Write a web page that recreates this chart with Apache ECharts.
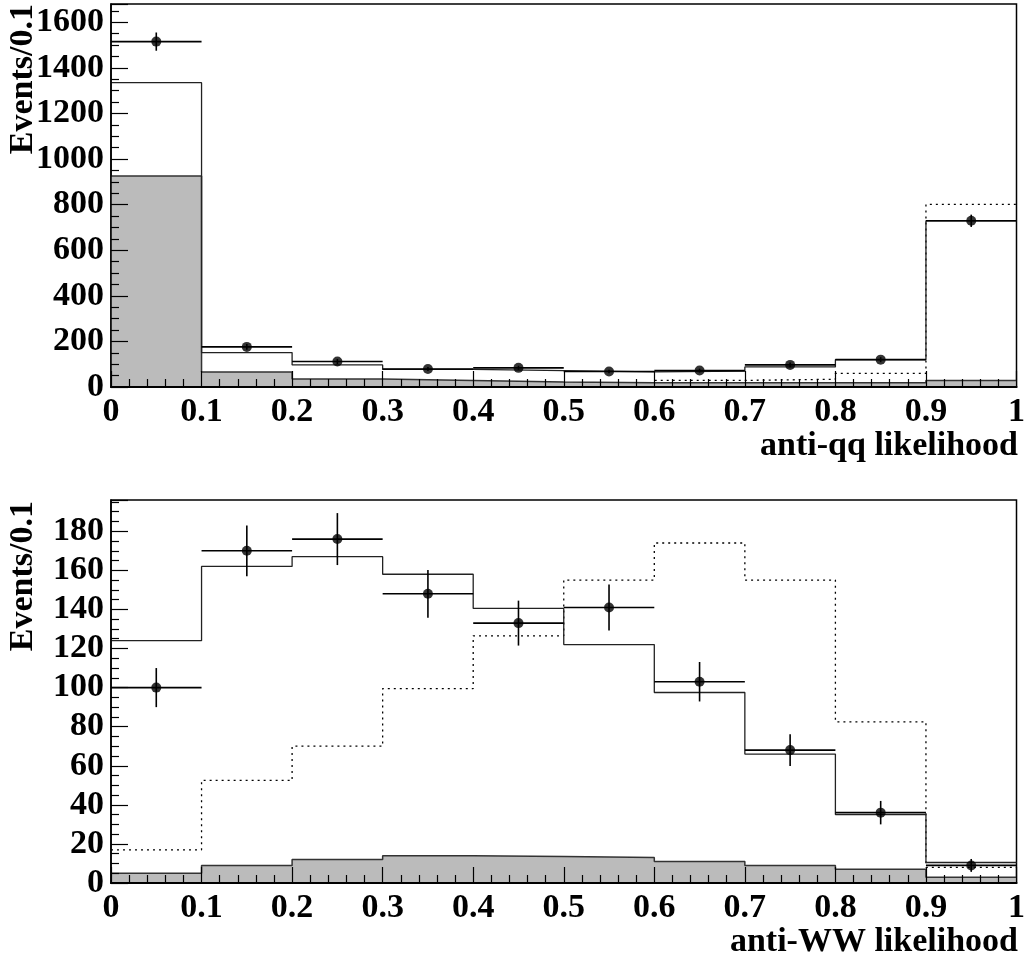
<!DOCTYPE html>
<html>
<head>
<meta charset="utf-8">
<title>likelihood</title>
<script src="https://cdn.jsdelivr.net/npm/echarts@6/dist/echarts.min.js"></script>
<style>
    html, body { margin: 0; padding: 0; background: #fff; }
    #chart { width: 1028px; height: 958px; }
</style>
</head>
<body>
<div id="chart"></div>
<script>

// bin edges, shared by both panels
const binEdges = [0, 0.1, 0.2, 0.3, 0.4, 0.5, 0.6, 0.7, 0.8, 0.9, 1];
const xTickLabels = ['0', '0.1', '0.2', '0.3', '0.4', '0.5', '0.6', '0.7', '0.8', '0.9', '1'];

// [ top panel: anti-qq likelihood ]
const qqData       = [1515, 176, 112, 79, 84, 68, 72, 97, 120, 729];
const qqDataErr    = [40, 13, 11, 9, 9, 8, 8.5, 10, 11, 27];
const qqTotalMC    = [1335, 151, 97, 77, 72, 66, 70, 88, 120, 729];
const qqBackground = [925, 66, 35, 28, 22, 19, 19, 19, 19, 29];
const qqSignal     = [8, 12, 14, 16, 18, 19, 29, 34, 60, 801];

// [ bottom panel: anti-WW likelihood ]
const wwData       = [100, 170, 176, 148, 133, 141, 103, 68, 36, 9];
const wwDataErr    = [10, 13, 13.3, 12.2, 11.5, 11.8, 10.1, 8.1, 6, 3.3];
const wwTotalMC    = [124, 162, 167, 158, 140.5, 122, 97.5, 66, 35, 10.5];
const wwBackground = [5, 9, 12, 14, 13.6, 13.1, 11, 9, 7, 3];
const wwSignal     = [17, 52.5, 70, 99.5, 126.5, 155, 174, 155, 82.5, 8];

const FONT = '"Liberation Serif", "Times New Roman", serif';

// step points: one per edge, last bin value repeated at the right edge
function stepPoints(vals) {
    return binEdges.map((e, i) => [e, vals[Math.min(i, vals.length - 1)]]);
}

function errPoints(vals, errs) {
    return vals.map((v, i) => [(binEdges[i] + binEdges[i + 1]) / 2, v, errs[i], binEdges[i], binEdges[i + 1]]);
}

function renderErr(params, api) {
    const x = api.value(0), y = api.value(1), err = api.value(2);
    const pl = api.coord([api.value(3), y]);
    const pr = api.coord([api.value(4), y]);
    const pt = api.coord([x, y + err]);
    const pb = api.coord([x, y - err]);
    const style = { stroke: '#000', lineWidth: 1.6 };
    return {
        type: 'group',
        children: [
            { type: 'line', shape: { x1: pl[0], y1: pl[1], x2: pr[0], y2: pr[1] }, style: style },
            { type: 'line', shape: { x1: pt[0], y1: pt[1], x2: pb[0], y2: pb[1] }, style: style }
        ]
    };
}

function xAxisFor(idx) {
    return {
        type: 'value', gridIndex: idx, min: 0, max: 1, interval: 0.1, z: 10,
        axisLine: { lineStyle: { color: '#000', width: 2 } },
        axisTick: { inside: true, length: 16, lineStyle: { color: '#000', width: 1.2 } },
        minorTick: { show: true, splitNumber: 5, length: 8, lineStyle: { color: '#000', width: 1.2 } },
        splitLine: { show: false },
        axisLabel: {
            color: '#000', fontFamily: FONT, fontWeight: 'bold', fontSize: 34, margin: 8,
            formatter: v => xTickLabels[Math.round(v * 10)]
        }
    };
}

function yAxisFor(idx, max, interval) {
    return {
        type: 'value', gridIndex: idx, min: 0, max: max, interval: interval, z: 10,
        axisLine: { lineStyle: { color: '#000', width: 1.5 } },
        axisTick: { inside: true, length: 17, lineStyle: { color: '#000', width: 1.2 } },
        minorTick: { show: true, splitNumber: 4, length: 8, lineStyle: { color: '#000', width: 1.2 } },
        splitLine: { show: false },
        axisLabel: {
            color: '#000', fontFamily: FONT, fontWeight: 'bold', fontSize: 34, margin: 7,
            showMaxLabel: false,
            formatter: v => String(v)
        }
    };
}

function panelSeries(idx, data, err, total, bkg, sig) {
    return [
        {
            type: 'line', xAxisIndex: idx, yAxisIndex: idx, step: 'end', showSymbol: false, z: 2,
            data: stepPoints(sig),
            lineStyle: { color: '#000', width: 1.3, type: [2, 4] }
        },
        {
            type: 'line', xAxisIndex: idx, yAxisIndex: idx, step: 'end', showSymbol: false, z: 3,
            data: stepPoints(bkg),
            lineStyle: { color: '#333', width: 1.5 },
            areaStyle: { color: '#bbbbbb', opacity: 1 }
        },
        {
            type: 'line', xAxisIndex: idx, yAxisIndex: idx, step: 'end', showSymbol: false, z: 4,
            data: stepPoints(total),
            lineStyle: { color: '#222', width: 1.3 }
        },
        {
            type: 'custom', xAxisIndex: idx, yAxisIndex: idx, z: 5,
            data: errPoints(data, err),
            renderItem: renderErr
        },
        {
            type: 'scatter', xAxisIndex: idx, yAxisIndex: idx, z: 6,
            symbol: 'circle', symbolSize: 10,
            itemStyle: { color: '#000' },
            data: data.map((v, i) => [(binEdges[i] + binEdges[i + 1]) / 2, v])
        }
    ];
}

function titleText(text, x, y, rotated) {
    return {
        type: 'text', x: x, y: y, rotation: rotated ? Math.PI / 2 : 0,
        style: {
            text: text, fill: '#000', align: 'right', verticalAlign: 'middle',
            font: 'bold 34px ' + FONT
        }
    };
}

const chart = echarts.init(document.getElementById('chart'), null, { renderer: 'canvas' });

chart.setOption({
    animation: false,
    backgroundColor: '#fff',
    grid: [
        { left: 111, right: 10, top: 4, height: 383, show: true, borderColor: '#000', borderWidth: 1.5, backgroundColor: 'transparent' },
        { left: 111, right: 10, top: 500, height: 383, show: true, borderColor: '#000', borderWidth: 1.5, backgroundColor: 'transparent' }
    ],
    xAxis: [xAxisFor(0), xAxisFor(1)],
    yAxis: [yAxisFor(0, 1680, 200), yAxisFor(1, 196, 20)],
    series: [
        ...panelSeries(0, qqData, qqDataErr, qqTotalMC, qqBackground, qqSignal),
        ...panelSeries(1, wwData, wwDataErr, wwTotalMC, wwBackground, wwSignal)
    ],
    graphic: [
        titleText('Events/0.1', 23, 4, true),
        titleText('anti-qq likelihood', 1018, 446, false),
        titleText('Events/0.1', 23, 501, true),
        titleText('anti-WW likelihood', 1018, 942, false)
    ]
});

</script>
</body>
</html>
